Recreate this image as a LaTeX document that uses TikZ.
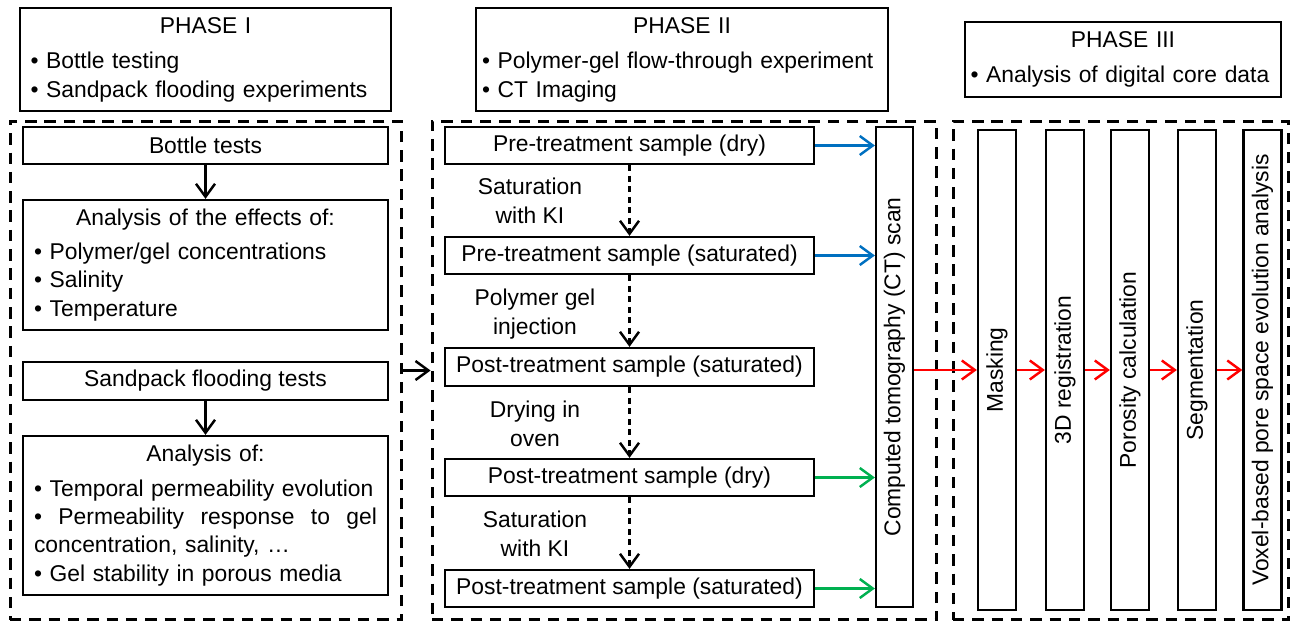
\documentclass[tikz,border=0pt]{standalone}
\usepackage{fontspec}
\setmainfont{Liberation Sans}
\usetikzlibrary{arrows.meta}
\definecolor{ctblue}{RGB}{0,112,192}
\definecolor{ctgreen}{RGB}{0,176,80}

\begin{document}
\begin{tikzpicture}[x=0.02cm, y=-0.02cm,
    every node/.style={font=\fontsize{13}{16.2}\selectfont},
    box/.style={draw, line width=1.3pt, inner sep=0pt},
    hbox/.style={box, minimum width=7.3cm, minimum height=0.74cm},
    sbox/.style={box, minimum width=7.38cm, minimum height=0.74cm},
    vbox/.style={box, rotate=90, minimum width=9.6cm, minimum height=0.76cm},
    dframe/.style={draw, line width=1.7pt, dash pattern=on 6.5pt off 4.5pt, minimum height=9.98cm},
    arr/.style={line width=1.4pt, -{Straight Barb[length=2.6mm, width=3.8mm]}},
    darr/.style={arr, dash pattern=on 3.5pt off 2.5pt}]
    \useasboundingbox (0, 0) rectangle (1294, 625);

    \node[box, minimum width=7.42cm, minimum height=2.06cm, text width=7.0cm, align=left] (phaseone) at (205.5, 59.5)
        {\makebox[7.0cm]{PHASE I}\\[4pt]\textbullet\ Bottle testing\\\textbullet\ Sandpack flooding experiments};
    \node[box, minimum width=8.24cm, minimum height=2.06cm, text width=8.0cm, align=left] (phasetwo) at (682, 59.5)
        {\makebox[8.0cm]{PHASE II}\\[4pt]\textbullet\ Polymer-gel flow-through experiment\\\textbullet\ CT Imaging};
    \node[box, minimum width=6.32cm, minimum height=1.5cm, text width=6.1cm, align=left] (phasethree) at (1123, 59.5)
        {\makebox[6.1cm]{PHASE III}\\[3.5pt]\textbullet\ Analysis of digital core data};

    \node[dframe, minimum width=7.84cm] (grpone) at (206, 370.5) {};
    \node[dframe, minimum width=10.1cm] (grptwo) at (684.5, 370.5) {};
    \node[dframe, minimum width=6.72cm] (grpthree) at (1121, 370.5) {};

    \node[hbox] (bottle) at (205.5, 145.5) {Bottle tests};
    \node[box, minimum width=7.3cm, minimum height=2.6cm, text width=6.86cm, align=left] (effects) at (205.5, 265)
        {\makebox[6.86cm]{Analysis of the effects of:}\\[3pt]\textbullet\ Polymer/gel concentrations\\\textbullet\ Salinity\\\textbullet\ Temperature};
    \node[hbox, minimum height=0.76cm] (sandpack) at (205.5, 381) {Sandpack flooding tests};
    \node[box, minimum width=7.3cm, minimum height=3.18cm, text width=6.86cm, align=left] (sandres) at (205.5, 515.5)
        {\makebox[6.86cm]{Analysis of:}\\[3.5pt]\textbullet\ Temporal permeability evolution\\
         \makebox[6.86cm]{\textbullet\hfill Permeability\hfill response\hfill to\hfill gel}\\concentration, salinity, \dots\\
         \textbullet\ Gel stability in porous media};

    \draw[arr] (bottle) -- (effects);
    \draw[arr] (sandpack) -- (sandres);
    \draw[arr] (grpone) -- (grptwo);

    \node[sbox] (predry) at (629.5, 145.5) {Pre-treatment sample (dry)};
    \node[sbox] (presat) at (629.5, 255.5) {Pre-treatment sample (saturated)};
    \node[sbox, minimum height=0.76cm] (postsat) at (629.5, 367) {Post-treatment sample (saturated)};
    \node[sbox] (postdry) at (629.5, 477.5) {Post-treatment sample (dry)};
    \node[sbox] (postsatb) at (629.5, 588.5) {Post-treatment sample (saturated)};
    \node[vbox, minimum height=0.74cm] (ct) at (894.5, 367) {Computed tomography (CT) scan};

    \node[align=center] (satone) at (530, 201) {Saturation\\with KI};
    \node[align=center] (inject) at (535, 314) {Polymer gel\\injection};
    \node[align=center] (drying) at (535, 424) {Drying in\\oven};
    \node[align=center] (sattwo) at (535, 534) {Saturation\\with KI};

    \draw[darr] (predry) -- (presat);
    \draw[darr] (presat) -- (postsat);
    \draw[darr] (postsat) -- (postdry);
    \draw[darr] (postdry) -- (postsatb);

    \draw[arr, ctblue] (predry) -- (predry -| ct.north);
    \draw[arr, ctblue] (presat) -- (presat -| ct.north);
    \draw[arr, ctgreen] (postdry) -- (postdry -| ct.north);
    \draw[arr, ctgreen] (postsatb) -- (postsatb -| ct.north);

    \node[vbox] (mask) at (997, 370) {Masking};
    \node[vbox] (reg) at (1065, 370) {3D registration};
    \node[vbox] (poro) at (1130, 370) {Porosity calculation};
    \node[vbox] (seg) at (1197, 370) {Segmentation};
    \node[vbox] (voxel) at (1262.5, 370) {Voxel-based pore space evolution analysis};

    \draw[arr, red] (ct.south |- mask) -- (mask);
    \draw[arr, red] (mask) -- (reg);
    \draw[arr, red] (reg) -- (poro);
    \draw[arr, red] (poro) -- (seg);
    \draw[arr, red] (seg) -- (voxel);
\end{tikzpicture}
\end{document}
